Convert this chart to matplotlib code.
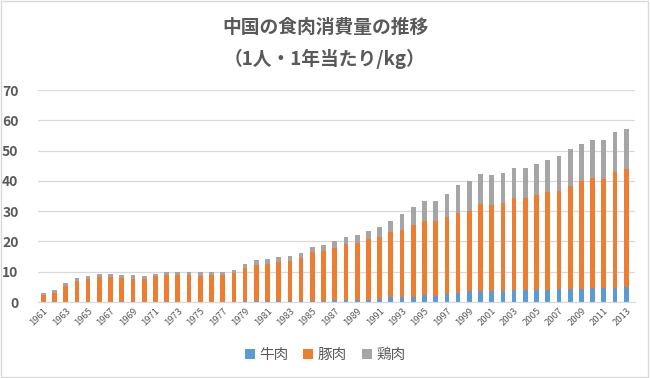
import numpy as np
import matplotlib.pyplot as plt
from matplotlib.patches import Rectangle

plt.rcParams['font.family'] = ['Noto Sans CJK JP', 'DejaVu Sans']

# data (kg per person per year)
years = list(range(1961, 2014))
beef = [0.0, 0.0, 0.0, 0.0, 0.1, 0.1, 0.1, 0.1, 0.1, 0.1,
        0.1, 0.1, 0.1, 0.1, 0.1, 0.1, 0.1, 0.1, 0.2, 0.2,
        0.2, 0.2, 0.2, 0.3, 0.4, 0.4, 0.7, 0.7, 0.8, 0.8,
        0.9, 1.5, 1.8, 1.8, 2.4, 2.1, 2.6, 3.1, 3.5, 3.7,
        3.7, 3.7, 4.0, 4.0, 4.0, 4.0, 4.3, 4.4, 4.4, 4.5,
        4.5, 4.6, 4.9]
pork_top = [2.3, 2.9, 5.2, 7.0, 7.6, 8.1, 8.2, 8.0, 7.7, 7.7,
            8.5, 9.0, 8.9, 8.8, 8.7, 8.8, 8.8, 9.5, 11.2, 12.1,
            12.7, 13.3, 13.6, 14.6, 16.6, 16.8, 17.9, 19.2, 19.6, 20.7,
            21.5, 23.0, 23.8, 25.5, 26.6, 26.6, 28.2, 29.5, 30.2, 32.2,
            32.1, 32.6, 34.2, 34.3, 35.2, 36.2, 36.5, 38.4, 39.8, 40.8,
            40.7, 42.9, 43.9]
total = [3.1, 4.1, 6.3, 7.9, 8.5, 9.1, 9.3, 9.0, 8.8, 8.5,
         9.3, 10.0, 10.0, 9.8, 10.0, 9.8, 9.8, 10.7, 12.5, 13.8,
         14.2, 14.8, 15.3, 16.3, 18.1, 18.8, 20.1, 21.5, 22.2, 23.5,
         24.9, 26.9, 29.1, 31.3, 33.2, 33.4, 35.7, 38.5, 39.9, 42.2,
         41.9, 42.6, 44.1, 44.1, 45.6, 47.0, 48.2, 50.6, 52.1, 53.5,
         53.5, 56.0, 57.2]

beef = np.array(beef)
pork = np.array(pork_top) - beef
chicken = np.array(total) - np.array(pork_top)

labels = ['牛肉', '豚肉', '鶏肉']
colors = ['#5B9BD5', '#ED7D31', '#A5A5A5']
text_color = '#595959'

fig = plt.figure(figsize=(6.5, 3.78), dpi=100)
ax = fig.add_axes([38/650, 1 - 302/378, (635 - 38)/650, (302 - 90)/378])

x = np.arange(len(years))
w = 0.42
ax.bar(x, beef, w, color=colors[0], label=labels[0])
ax.bar(x, pork, w, bottom=beef, color=colors[1], label=labels[1])
ax.bar(x, chicken, w, bottom=beef + pork, color=colors[2], label=labels[2])

ax.set_ylim(0, 70)
ax.set_yticks(range(0, 71, 10))
ax.set_xlim(-0.47, len(years) - 1 + 0.78)
ax.yaxis.grid(True, color='#D9D9D9', linewidth=0.9)
ax.set_axisbelow(True)
for s in ['top', 'right', 'left']:
    ax.spines[s].set_visible(False)
ax.spines['bottom'].set_color('#D9D9D9')
ax.tick_params(axis='y', length=0, pad=14, labelsize=10, labelcolor=text_color)
for t in ax.get_yticklabels():
    t.set_fontweight('bold')
ax.set_xticks(x[::2])
ax.set_xticklabels([str(y) for y in years[::2]], rotation=45, ha='right',
                   rotation_mode='anchor', fontsize=6.8, color=text_color)
ax.tick_params(axis='x', length=0, pad=3)

fig.text(0.5, 1 - 27/378, '中国の食肉消費量の推移', ha='center', va='center',
         fontsize=13.5, fontweight='bold', color=text_color)
fig.text(0.5, 1 - 59/378, '（1人・1年当たり/kg）', ha='center', va='center',
         fontsize=13.5, fontweight='bold', color=text_color)

leg = fig.legend(loc='center', bbox_to_anchor=(0.5, 1 - 355/378), ncol=3,
                 frameon=False, fontsize=10.5, handlelength=0.7, handleheight=0.7,
                 handletextpad=0.3, columnspacing=1.0)
for t in leg.get_texts():
    t.set_color(text_color)

fig.patches.append(Rectangle((0.002, 0.003), 0.995, 0.994, transform=fig.transFigure,
                             fill=False, edgecolor='#D9D9D9', linewidth=1))

fig.savefig('out.png', dpi=100)
